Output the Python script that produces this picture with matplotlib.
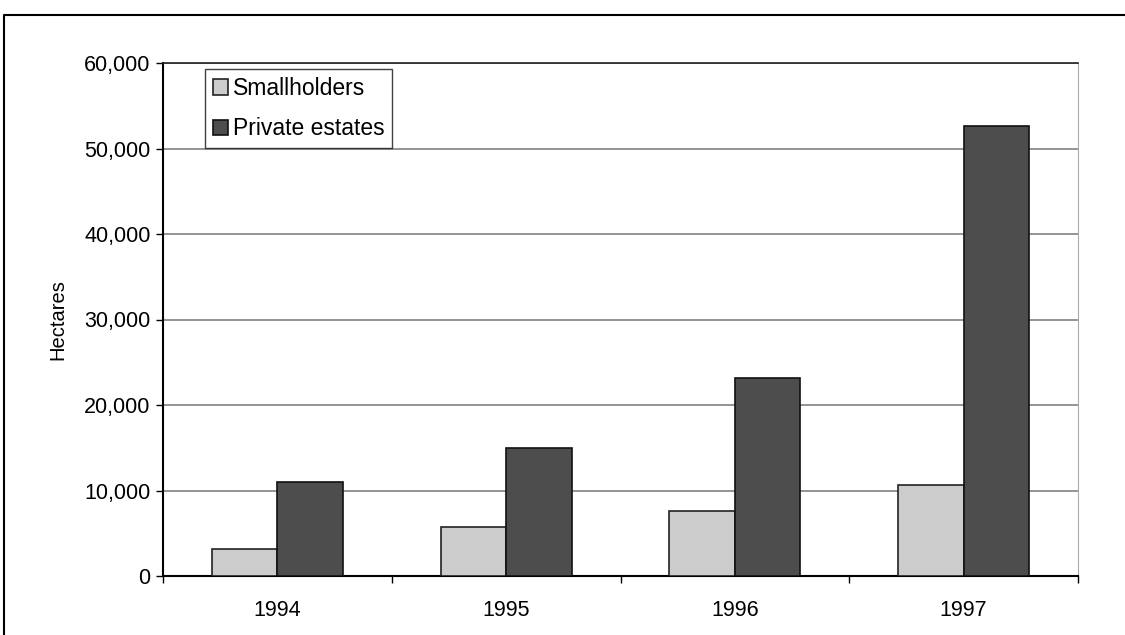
import matplotlib.pyplot as plt
import matplotlib.lines as mlines
import numpy as np
from matplotlib.ticker import FuncFormatter

plt.rcParams['font.family'] = ['Liberation Sans', 'DejaVu Sans']

years = ['1994', '1995', '1996', '1997']
smallholders = [3150, 5700, 7650, 10600]
private_estates = [11000, 15000, 23150, 52650]

fig = plt.figure(figsize=(11.25, 6.35), dpi=100)
ax = fig.add_axes([163 / 1125, 1 - 576 / 635, (1078 - 163) / 1125, (576 - 63) / 635])

# frame round the chart: only left and top edges show, the rest is cut off
fx, fy = 3.5 / 1125, 1 - 14.5 / 635
fig.lines.append(mlines.Line2D([fx, fx, 1.0], [0.0, fy, fy], transform=fig.transFigure,
                               color='black', linewidth=1.5))

x = np.arange(len(years))
w = 0.286
ax.bar(x - w / 2, smallholders, w, color='#cccccc', edgecolor='#222222',
       linewidth=1.2, label='Smallholders', zorder=3)
ax.bar(x + w / 2, private_estates, w, color='#4d4d4d', edgecolor='#111111',
       linewidth=1.2, label='Private estates', zorder=3)

ax.set_xlim(-0.5, 3.5)
ax.set_ylim(0, 60000)
ax.set_yticks(np.arange(0, 60001, 10000))
ax.yaxis.set_major_formatter(FuncFormatter(lambda v, p: f'{int(v):,}'))
ax.set_xticks(x)
ax.set_xticklabels(years)
ax.set_xticks(np.arange(-0.5, 3.6, 1), minor=True)
ax.tick_params(axis='x', which='major', length=0, pad=17, labelsize=15.5)
ax.tick_params(axis='x', which='minor', length=5, width=1, direction='out')
ax.tick_params(axis='y', length=5, width=1, direction='out', labelsize=15.5, pad=4)

ax.yaxis.grid(True, color='#777777', linewidth=1.1, zorder=0)
ax.spines['top'].set_color('#222222')
ax.spines['top'].set_linewidth(1.2)
ax.spines['right'].set_color('#aaaaaa')
ax.spines['left'].set_linewidth(1.5)
ax.spines['bottom'].set_linewidth(1.5)

ax.set_ylabel('Hectares', fontsize=14.5, labelpad=12)

leg = ax.legend(loc='upper left', bbox_to_anchor=(0.046, 0.988), fontsize=16.5,
                frameon=True, fancybox=False, edgecolor='#111111',
                handlelength=0.65, handleheight=0.65, handletextpad=0.2,
                borderpad=0.35, labelspacing=0.75, borderaxespad=0)
leg.get_frame().set_linewidth(1)

fig.savefig('out.png', dpi=100)
